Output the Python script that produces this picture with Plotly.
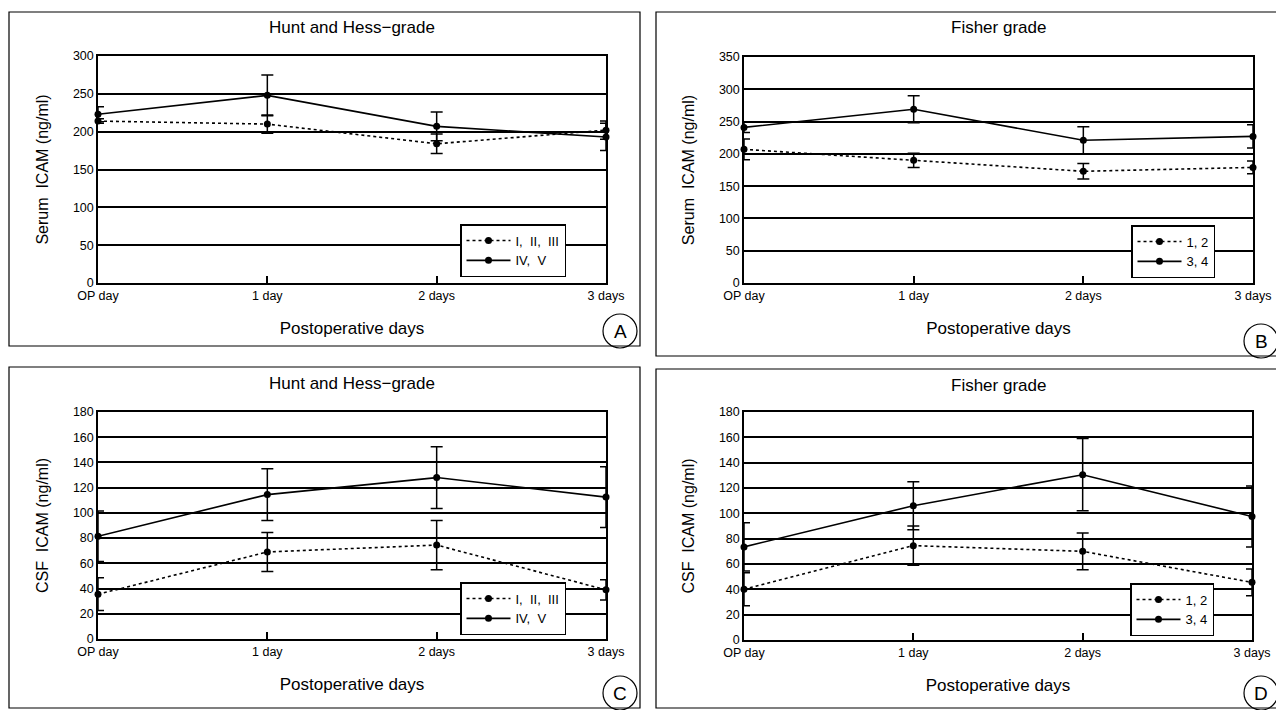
import plotly.graph_objects as go

days = ["OP day", "1 day", "2 days", "3 days"]

# Panel A: serum ICAM, Hunt and Hess grade
a_low = [214, 210, 184, 202]
a_low_err = [3, 12, 13, 12]
a_high = [223, 248, 207, 193]
a_high_err = [10, 27, 19, 18]
# Panel B: serum ICAM, Fisher grade
b_low = [207, 190, 173, 179]
b_low_err = [16, 11, 12, 10]
b_high = [241, 269, 221, 227]
b_high_err = [8, 21, 21, 18]
# Panel C: CSF ICAM, Hunt and Hess grade
c_low = [35.5, 69, 74.5, 39]
c_low_err = [13, 15.5, 19.5, 8]
c_high = [81.5, 114.5, 128, 112.5]
c_high_err = [20, 20.5, 24.5, 24]
# Panel D: CSF ICAM, Fisher grade
d_low = [40, 74.5, 70, 45.5]
d_low_err = [13, 15.5, 14.5, 10.5]
d_high = [73.5, 106, 130.5, 97.5]
d_high_err = [19, 19, 28.5, 24]

hh_names = ["I,  II,  III", "IV,  V"]
fi_names = ["1, 2", "3, 4"]

# the page body adds an 8px offset; the figure is sized to fill the rest of the window
OFF = 8
W, H = 1284 - OFF, 710 - OFF
FONT = "Liberation Sans"


def px(x):
    return (x - OFF) / W


def py(y):
    return 1 - (y - OFF) / H


panels = [
    dict(key="", x0=98, x1=606, y0=56, y1=283, low=a_low, le=a_low_err, high=a_high, he=a_high_err,
         names=hh_names, ymax=300, dtick=50, title="Hunt and Hess\u2212grade", ylabel="Serum  ICAM (ng/ml)",
         letter="A", box=(9, 12, 640, 346), leg=(460, 224), legname="legend"),
    dict(key="2", x0=744, x1=1253, y0=57, y1=283, low=b_low, le=b_low_err, high=b_high, he=b_high_err,
         names=fi_names, ymax=350, dtick=50, title="Fisher grade", ylabel="Serum  ICAM (ng/ml)",
         letter="B", box=(656, 12, 1281, 356), leg=(1131, 225), legname="legend2"),
    dict(key="3", x0=98, x1=606, y0=412, y1=639, low=c_low, le=c_low_err, high=c_high, he=c_high_err,
         names=hh_names, ymax=180, dtick=20, title="Hunt and Hess\u2212grade", ylabel="CSF  ICAM (ng/ml)",
         letter="C", box=(9, 367, 640, 708), leg=(460, 582), legname="legend3"),
    dict(key="4", x0=744, x1=1252, y0=412, y1=640, low=d_low, le=d_low_err, high=d_high, he=d_high_err,
         names=fi_names, ymax=180, dtick=20, title="Fisher grade", ylabel="CSF  ICAM (ng/ml)",
         letter="D", box=(656, 369, 1281, 708), leg=(1130, 583), legname="legend4"),
]

fig = go.Figure()
shapes = []
annotations = []
layout = dict(
    width=W, height=H,
    margin=dict(l=0, r=0, t=0, b=0, autoexpand=False),
    paper_bgcolor="white", plot_bgcolor="white",
    font=dict(family=FONT, color="black", size=12),
    showlegend=True,
)

for p in panels:
    k = p["key"]
    xa = "x" + k
    ya = "y" + k
    for vals, errs, name, dash in [(p["low"], p["le"], p["names"][0], "dot"),
                                   (p["high"], p["he"], p["names"][1], "solid")]:
        fig.add_trace(go.Scatter(
            x=days, y=vals, xaxis=xa, yaxis=ya, name=name, legend=p["legname"],
            mode="lines+markers", cliponaxis=False,
            line=dict(color="black", width=1.6, dash=dash),
            marker=dict(color="black", size=7, symbol="circle"),
            error_y=dict(type="data", array=errs, symmetric=True, color="black", thickness=1.5, width=6),
        ))
    layout["xaxis" + k] = dict(
        domain=[px(p["x0"]), px(p["x1"])], anchor=ya, type="category", range=[0, 3],
        automargin=False,
        showgrid=False, showline=True, mirror=True, linecolor="black", linewidth=1.5,
        ticks="inside", ticklen=7, tickwidth=1.5, tickcolor="black",
        tickfont=dict(family=FONT, size=12.5), fixedrange=True,
        title=dict(text="Postoperative days", font=dict(family=FONT, size=17), standoff=20),
    )
    layout["yaxis" + k] = dict(
        domain=[py(p["y1"]), py(p["y0"])], anchor=xa, range=[0, p["ymax"]], dtick=p["dtick"],
        automargin=False,
        showgrid=True, gridcolor="black", gridwidth=1.8, zeroline=False,
        showline=True, mirror=True, linecolor="black", linewidth=1.5, ticks="",
        tickfont=dict(family=FONT, size=12.5), fixedrange=True,
        title=dict(text=p["ylabel"], font=dict(family=FONT, size=16), standoff=20),
    )
    layout[p["legname"]] = dict(
        x=px(p["leg"][0]), y=py(p["leg"][1]), xanchor="left", yanchor="top",
        bgcolor="white", bordercolor="black", borderwidth=1.5,
        font=dict(family=FONT, size=13), itemwidth=44, tracegroupgap=0,
    )
    bx0, by0, bx1, by1 = p["box"]
    shapes.append(dict(type="rect", xref="paper", yref="paper", x0=px(bx0), x1=px(bx1), y0=py(by1), y1=py(by0),
                       line=dict(color="black", width=1.2), fillcolor="rgba(0,0,0,0)", layer="below"))
    cx, cy = bx1 - 20, by1 - 15
    shapes.append(dict(type="circle", xref="paper", yref="paper", x0=px(cx - 17), x1=px(cx + 17),
                       y0=py(cy + 17), y1=py(cy - 17), line=dict(color="black", width=1.2)))
    annotations.append(dict(text=p["letter"], x=px(cx), y=py(cy), xref="paper", yref="paper",
                            showarrow=False, font=dict(family=FONT, size=19), xanchor="center", yanchor="middle"))
    annotations.append(dict(text=p["title"], x=px((p["x0"] + p["x1"]) / 2), y=py(by0 + 16), xref="paper",
                            yref="paper", showarrow=False, font=dict(family=FONT, size=17),
                            xanchor="center", yanchor="middle"))

layout["shapes"] = shapes
layout["annotations"] = annotations
fig.update_layout(**layout)
fig.write_html("out.html")
